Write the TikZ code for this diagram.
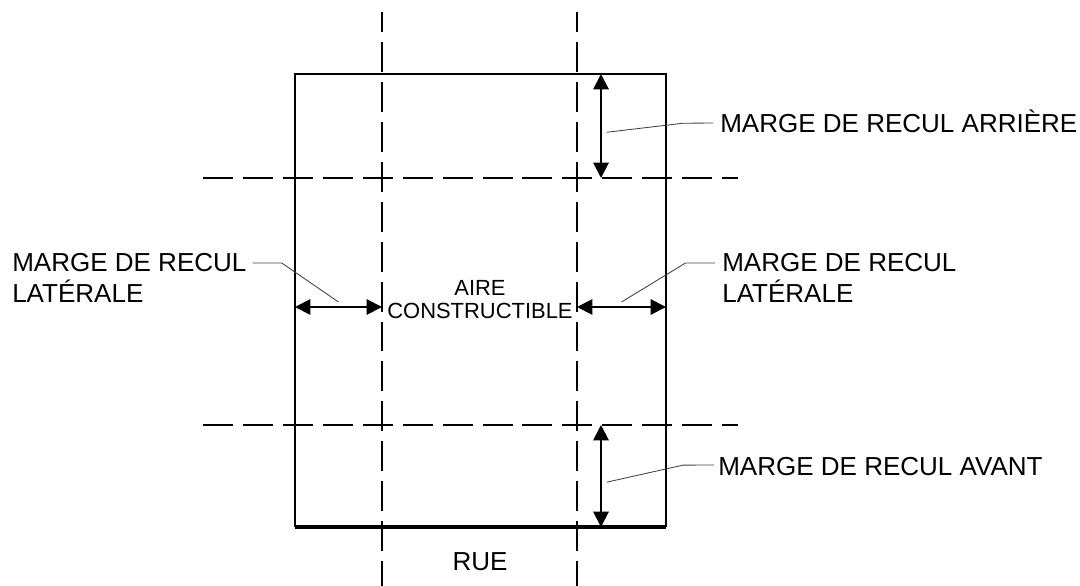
\documentclass[tikz,border=0pt]{standalone}
\usepackage{fontspec}
\setmainfont{Liberation Sans}
\usetikzlibrary{arrows.meta, calc}

\begin{document}
\begin{tikzpicture}[x=0.025cm, y=-0.025cm]

\tikzstyle{lot}=[draw, line width=1.4pt]
\tikzstyle{street}=[draw, line width=2.6pt]
\tikzstyle{setback}=[draw, line width=1.2pt, dash pattern=on 21.3pt off 7.1pt]
\tikzstyle{dim}=[draw, line width=1.4pt,
    {Triangle[length=11pt, width=11pt]}-{Triangle[length=11pt, width=11pt]}]
\tikzstyle{lead}=[draw, line width=0.6pt, black!75]
\tikzstyle{note}=[inner sep=0pt, align=left, font=\fontsize{18.5}{22}\selectfont]
\tikzstyle{areatext}=[inner sep=0pt, align=center, font=\fontsize{15.6}{16.4}\selectfont]

\useasboundingbox (0, 0) rectangle (1080, 586);

% lot
\coordinate (nw) at (295, 74);
\coordinate (ne) at (666, 74);
\coordinate (sw) at (295, 527);
\coordinate (se) at (666, 527);
\path [lot] (sw) -- (nw) -- (ne) -- (se);
\path [street] (sw) -- (se);

% setback lines
\path [setback, dash phase=7.1pt] (382, 12) -- (382, 586);
\path [setback, dash phase=7.1pt] (577, 12) -- (577, 586);
\path [setback] (203, 178) -- (738, 178);
\path [setback] (203, 425) -- (738, 425);

% dimension ends
\coordinate (rt) at (601, 74);
\coordinate (rb) at (601, 178);
\coordinate (ft) at (601, 425);
\coordinate (fb) at (601, 527);
\coordinate (lw) at (295, 307);
\coordinate (le) at (382, 307);
\coordinate (rw) at (577, 307);
\coordinate (re) at (666, 307);
\path [dim] (rt) -- (rb);
\path [dim] (ft) -- (fb);
\path [dim] (lw) -- (le);
\path [dim] (rw) -- (re);

% texts
\node (arriere) [note, anchor=base west] at (720, 132) {MARGE DE RECUL ARRIÈRE};
\node (avant)   [note, anchor=base west] at (718, 475) {MARGE DE RECUL AVANT};
\node (latg)    [note, anchor=north west] at (12, 253) {MARGE DE RECUL\\LATÉRALE};
\node (latd)    [note, anchor=north west] at (722, 253) {MARGE DE RECUL\\LATÉRALE};
\node (aire)    [areatext, anchor=north] at (480, 280) {AIRE\\CONSTRUCTIBLE};
\node (rue)     [note, anchor=base] at (480, 570) {RUE};

% leaders
\path [lead] ($ (rt)!0.56!(rb) + (6, 0) $)
    -- ++(76, -9)
    -- ($ (arriere.base west) + (-7, -9) $);
\path [lead] ($ (ft)!0.56!(fb) + (6, 0) $)
    -- ++(76, -17)
    -- ($ (avant.base west) + (-4, -10) $);
\path [lead] ($ (latg.north east) + (6, 10) $)
    -- ++(29, 0)
    -- ($ (lw)!0.5!(le) + (0, -5) $);
\path [lead] ($ (rw)!0.5!(re) + (0, -5) $)
    -- ++(64, -39)
    -- ($ (latd.north west) + (-7, 10) $);
\end{tikzpicture}
\end{document}
